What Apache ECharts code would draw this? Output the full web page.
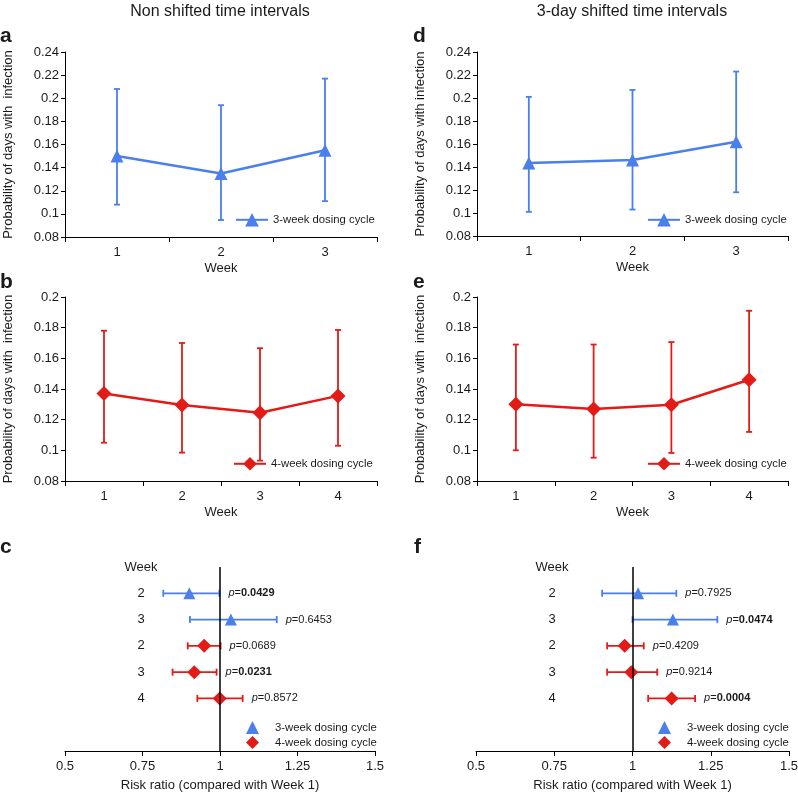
<!DOCTYPE html>
<html><head><meta charset="utf-8">
<script src="https://cdn.jsdelivr.net/npm/echarts@6/dist/echarts.min.js"></script>
<style>html,body{margin:0;padding:0;background:#fff}#chart{width:798px;height:796px}</style>
</head><body><div id="chart"></div>
<script>
// ---------- data ----------
const weeks3 = ['1', '2', '3'];
const weeks4 = ['1', '2', '3', '4'];
// panel a (non shifted, 3-week cycle)
const aMean = [0.150, 0.135, 0.155];
const aLow  = [0.108, 0.0947, 0.111];
const aHigh = [0.208, 0.194, 0.217];
// panel d (3-day shifted, 3-week cycle)
const dMean = [0.1435, 0.146, 0.162];
const dLow  = [0.101, 0.103, 0.118];
const dHigh = [0.201, 0.207, 0.223];
// panel b (non shifted, 4-week cycle)
const bMean = [0.137, 0.1295, 0.1245, 0.1355];
const bLow  = [0.105, 0.0985, 0.0933, 0.103];
const bHigh = [0.178, 0.170, 0.1666, 0.1785];
// panel e (3-day shifted, 4-week cycle)
const eMean = [0.130, 0.127, 0.1297, 0.146];
const eLow  = [0.100, 0.0952, 0.0983, 0.112];
const eHigh = [0.169, 0.169, 0.1706, 0.191];
// forest plots
const forestRows = ['Week', '2', '3', '2', '3', '4', '', ''];
const forestGroup = ['3w', '3w', '4w', '4w', '4w'];
const cRR   = [0.901, 1.035, 0.949, 0.917, 0.999];
const cLow  = [0.817, 0.903, 0.896, 0.847, 0.927];
const cHigh = [0.998, 1.183, 1.002, 0.989, 1.073];
const cP    = ['0.0429', '0.6453', '0.0689', '0.0231', '0.8572'];
const cSig  = [true, false, false, true, false];
const fRR   = [1.018, 1.129, 0.975, 0.996, 1.125];
const fLow  = [0.903, 1.000, 0.919, 0.919, 1.050];
const fHigh = [1.140, 1.271, 1.036, 1.079, 1.200];
const fP    = ['0.7925', '0.0474', '0.4209', '0.9214', '0.0004'];
const fSig  = [false, true, false, false, true];
const yTicksA = { min: 0.08, max: 0.24, interval: 0.02 };
const yTicksB = { min: 0.08, max: 0.20, interval: 0.02 };
const rrTicks = { min: 0.5, max: 1.5, interval: 0.25 };

// ---------- style ----------
const BLUE = '#4A7FEC';
const RED = '#E31B17';
const TXT = '#1a1a1a';
const FONT = '"Liberation Sans", Arial, Helvetica, sans-serif';
const NAME3 = '3-week dosing cycle';
const NAME4 = '4-week dosing cycle';

const grids = [
  { left: 65, top: 52, width: 312, height: 185 },   // a
  { left: 477, top: 52, width: 311, height: 184 },  // d
  { left: 65, top: 297, width: 312, height: 184 },  // b
  { left: 477, top: 297, width: 311, height: 184 }, // e
  { left: 65, top: 567, width: 310, height: 184 },  // c
  { left: 476, top: 567, width: 313, height: 184 }  // f
].map(g => Object.assign({ containLabel: false, outerBoundsMode: 'none' }, g));

function weekXAxis(gi, cats) {
  return {
    gridIndex: gi, type: 'category', data: cats, boundaryGap: true,
    axisLine: { show: true, lineStyle: { color: '#000', width: 1 } },
    axisTick: { show: true, interval: 0, length: 5, lineStyle: { color: '#000' } },
    axisLabel: { fontSize: 13, color: TXT, margin: 9, fontFamily: FONT },
    splitLine: { show: false },
    name: 'Week', nameLocation: 'middle', nameGap: 25,
    nameTextStyle: { fontSize: 13, color: TXT, fontFamily: FONT }
  };
}
function probYAxis(gi, t, name) {
  return {
    gridIndex: gi, type: 'value', min: t.min, max: t.max, interval: t.interval,
    axisLine: { show: true, lineStyle: { color: '#000', width: 1 } },
    axisTick: { show: true, length: 4, lineStyle: { color: '#000' } },
    axisLabel: { fontSize: 13, color: TXT, margin: 6, fontFamily: FONT },
    splitLine: { show: false },
    name: name, nameLocation: 'middle', nameGap: 50,
    nameTextStyle: { fontSize: 13, color: TXT, fontFamily: FONT }
  };
}
function rrXAxis(gi) {
  return {
    gridIndex: gi, type: 'value', min: rrTicks.min, max: rrTicks.max, interval: rrTicks.interval,
    axisLine: { show: true, lineStyle: { color: '#000', width: 1 } },
    axisTick: { show: true, length: 5, lineStyle: { color: '#000' } },
    axisLabel: { fontSize: 13, color: TXT, margin: 9, fontFamily: FONT },
    splitLine: { show: false },
    name: 'Risk ratio (compared with Week 1)', nameLocation: 'middle', nameGap: 28,
    nameTextStyle: { fontSize: 13, color: TXT, fontFamily: FONT }
  };
}
function rowYAxis(gi) {
  return {
    gridIndex: gi, type: 'category', data: forestRows, inverse: true, boundaryGap: false,
    axisLine: { show: false }, axisTick: { show: false }, splitLine: { show: false },
    axisLabel: { inside: true, margin: 76, align: 'center', fontSize: 13, color: TXT, fontFamily: FONT, interval: 0 }
  };
}

function lineSeries(name, gi, vals, color, symbol, size) {
  return {
    type: 'line', name: name, xAxisIndex: gi, yAxisIndex: gi, data: vals,
    symbol: symbol, symbolSize: size, z: 4,
    lineStyle: { color: color, width: 2.5 }, itemStyle: { color: color },
    emphasis: { disabled: true }, animation: false
  };
}
function vErrSeries(gi, lo, hi, color) {
  return {
    type: 'custom', name: 'err' + gi, xAxisIndex: gi, yAxisIndex: gi, z: 3,
    encode: { x: 0, y: [1, 2] }, animation: false, silent: true,
    data: lo.map((v, i) => [i, v, hi[i]]),
    renderItem: function (params, api) {
      const top = api.coord([api.value(0), api.value(2)]);
      const bot = api.coord([api.value(0), api.value(1)]);
      const w = 3, st = { stroke: color, lineWidth: 1.8 };
      return { type: 'group', children: [
        { type: 'line', shape: { x1: top[0], y1: top[1], x2: bot[0], y2: bot[1] }, style: st },
        { type: 'line', shape: { x1: top[0] - w, y1: top[1], x2: top[0] + w, y2: top[1] }, style: st },
        { type: 'line', shape: { x1: bot[0] - w, y1: bot[1], x2: bot[0] + w, y2: bot[1] }, style: st }
      ] };
    }
  };
}
function ciSeries(gi, lo, hi, pv, sig) {
  return {
    type: 'custom', name: 'ci' + gi, xAxisIndex: gi, yAxisIndex: gi, z: 3,
    encode: { x: [0, 1], y: 2 }, animation: false, silent: true,
    data: lo.map((v, i) => [v, hi[i], i + 1, i]),
    renderItem: function (params, api) {
      const k = api.value(3);
      const color = forestGroup[k] === '3w' ? BLUE : RED;
      const l = api.coord([api.value(0), api.value(2)]);
      const r = api.coord([api.value(1), api.value(2)]);
      const h = 3.5, st = { stroke: color, lineWidth: 1.8 };
      return { type: 'group', children: [
        { type: 'line', shape: { x1: l[0], y1: l[1], x2: r[0], y2: r[1] }, style: st },
        { type: 'line', shape: { x1: l[0], y1: l[1] - h, x2: l[0], y2: l[1] + h }, style: st },
        { type: 'line', shape: { x1: r[0], y1: r[1] - h, x2: r[0], y2: r[1] + h }, style: st },
        { type: 'text', x: r[0] + 9, y: r[1], style: {
          text: '{i|p}{n|=}{' + (sig[k] ? 'b' : 'n') + '|' + pv[k] + '}',
          align: 'left', verticalAlign: 'middle', fill: TXT,
          font: '11px ' + FONT,
          rich: {
            i: { fontStyle: 'italic', fontSize: 11, fontFamily: FONT, fill: TXT },
            n: { fontSize: 11, fontFamily: FONT, fill: TXT },
            b: { fontSize: 11, fontWeight: 'bold', fontFamily: FONT, fill: TXT }
          }
        } }
      ] };
    }
  };
}
function forestScatter(gi, rr, grp, name, color, symbol, size, withRef) {
  const data = [];
  rr.forEach((v, i) => { if (forestGroup[i] === grp) data.push([v, i + 1]); });
  const s = {
    type: 'scatter', name: name, xAxisIndex: gi, yAxisIndex: gi, data: data,
    symbol: symbol, symbolSize: size, z: 4, itemStyle: { color: color, opacity: 1 },
    emphasis: { disabled: true }, animation: false
  };
  if (withRef) {
    s.markLine = { silent: true, symbol: 'none', animation: false,
      label: { show: false }, lineStyle: { color: '#000', width: 1.5, type: 'solid' },
      emphasis: { disabled: true }, data: [{ xAxis: 1 }] };
  }
  return s;
}

function lineLegend(name, left, top) {
  return { data: [name], left: left, top: top, orient: 'horizontal', padding: 0,
    itemWidth: 32, itemHeight: 17, selectedMode: false,
    textStyle: { fontSize: 11.3, color: TXT, fontFamily: FONT } };
}
function forestLegend(left, top) {
  return { data: [{ name: NAME3, icon: 'triangle' }, { name: NAME4, icon: 'diamond' }],
    left: left, top: top, orient: 'vertical', padding: 0, itemGap: 2,
    itemWidth: 13, itemHeight: 13, selectedMode: false,
    textStyle: { fontSize: 11.3, color: TXT, fontFamily: FONT, padding: [0, 0, 0, 11] } };
}

function txt(text, x, y, size, weight) {
  return { type: 'text', x: x, y: y, silent: true, style: {
    text: text, fill: TXT, font: (weight || 'normal') + ' ' + size + 'px ' + FONT,
    align: weight === 'bold' ? 'left' : 'center', verticalAlign: 'middle',
    textAlign: weight === 'bold' ? 'left' : 'center', textVerticalAlign: 'middle' } };
}

const option = {
  backgroundColor: '#fff',
  animation: false,
  textStyle: { fontFamily: FONT },
  grid: grids,
  xAxis: [weekXAxis(0, weeks3), weekXAxis(1, weeks3), weekXAxis(2, weeks4), weekXAxis(3, weeks4), rrXAxis(4), rrXAxis(5)],
  yAxis: [
    probYAxis(0, yTicksA, 'Probability of days with  infection'),
    probYAxis(1, yTicksA, 'Probability of days with infection'),
    probYAxis(2, yTicksB, 'Probability of days with  infection'),
    probYAxis(3, yTicksB, 'Probability of days with  infection'),
    rowYAxis(4), rowYAxis(5)
  ],
  legend: [
    lineLegend(NAME3, 235, 213),
    lineLegend(NAME3, 647, 213),
    lineLegend(NAME4, 233, 457),
    lineLegend(NAME4, 647, 457),
    forestLegend(246, 721),
    forestLegend(658, 721)
  ],
  series: [
    lineSeries(NAME3, 0, aMean, BLUE, 'triangle', 13), vErrSeries(0, aLow, aHigh, BLUE),
    lineSeries(NAME3, 1, dMean, BLUE, 'triangle', 13), vErrSeries(1, dLow, dHigh, BLUE),
    lineSeries(NAME4, 2, bMean, RED, 'diamond', 15), vErrSeries(2, bLow, bHigh, RED),
    lineSeries(NAME4, 3, eMean, RED, 'diamond', 15), vErrSeries(3, eLow, eHigh, RED),
    ciSeries(4, cLow, cHigh, cP, cSig),
    forestScatter(4, cRR, '3w', NAME3, BLUE, 'triangle', 12, false),
    forestScatter(4, cRR, '4w', NAME4, RED, 'diamond', 14, true),
    ciSeries(5, fLow, fHigh, fP, fSig),
    forestScatter(5, fRR, '3w', NAME3, BLUE, 'triangle', 12, false),
    forestScatter(5, fRR, '4w', NAME4, RED, 'diamond', 14, true)
  ],
  graphic: [
    txt('Non shifted time intervals', 220, 12, 16),
    txt('3-day shifted time intervals', 632, 12, 16),
    txt('a', 0, 36, 21, 'bold'),
    txt('b', 0, 282, 21, 'bold'),
    txt('c', 0, 547, 21, 'bold'),
    txt('d', 413, 36, 21, 'bold'),
    txt('e', 413, 282, 21, 'bold'),
    txt('f', 414, 547, 21, 'bold')
  ]
};

const chart = echarts.init(document.getElementById('chart'), null, { renderer: 'canvas', width: 798, height: 796 });
chart.setOption(option);
</script>
</body></html>
